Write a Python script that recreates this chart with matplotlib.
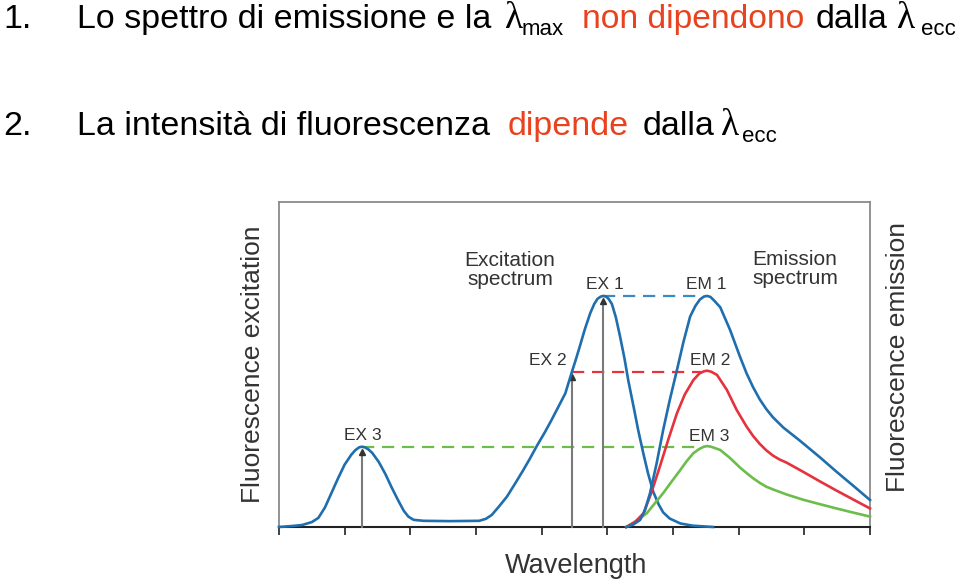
import matplotlib
matplotlib.use('Agg')
import matplotlib.pyplot as plt

plt.rcParams['font.family'] = ['Liberation Sans', 'DejaVu Sans']

# excitation spectrum (x in tick units, y in % of frame height)
ex_x = [0.00, 0.20, 0.35, 0.50, 0.60, 0.70, 0.80, 0.90, 1.00, 1.10, 1.16, 1.22, 1.26, 1.31, 1.36,
        1.42, 1.52, 1.62, 1.72, 1.82, 1.90, 1.97, 2.05, 2.20, 2.60, 3.05, 3.15, 3.24, 3.35, 3.47,
        3.60, 3.72, 3.82, 3.92, 4.05, 4.15, 4.26, 4.36, 4.46, 4.52, 4.58, 4.66, 4.74, 4.80,
        4.85, 4.90, 4.94, 4.98, 5.02, 5.07, 5.13, 5.19, 5.26, 5.32, 5.40, 5.47, 5.55, 5.62,
        5.70, 5.78, 5.85, 5.95, 6.11, 6.30, 6.61]
ex_y = [0.0, 0.3, 0.6, 1.5, 2.8, 6.0, 10.5, 15.0, 19.2, 22.2, 23.6, 24.5, 24.7, 24.5, 23.9,
        22.8, 20.0, 16.3, 12.0, 8.0, 5.0, 3.2, 2.2, 1.9, 1.8, 1.9, 2.5, 3.7, 6.3, 9.3,
        13.5, 17.5, 21.0, 24.7, 29.2, 32.9, 37.2, 41.1, 47.7, 51.5, 55.5, 61.0, 65.8, 68.6,
        70.2, 70.9, 71.1, 70.9, 70.2, 68.6, 64.5, 59.0, 52.0, 45.0, 37.0, 29.8, 22.5, 16.5,
        10.8, 7.0, 4.5, 2.6, 1.1, 0.4, 0.0]

# emission spectra
em1_x = [5.29, 5.40, 5.50, 5.57, 5.65, 5.75, 5.85, 5.95, 6.06, 6.16, 6.26, 6.34, 6.41, 6.47,
         6.52, 6.57, 6.63, 6.72, 6.87, 7.02, 7.12, 7.22, 7.32, 7.42, 7.52, 7.68, 7.93, 8.24,
         8.49, 8.75, 9.00]
em1_y = [0.0, 0.8, 2.2, 5.0, 10.4, 19.5, 29.8, 39.0, 48.3, 57.0, 64.7, 68.0, 70.0, 70.9,
         71.1, 70.8, 69.6, 67.6, 60.6, 52.4, 47.3, 43.0, 39.3, 36.3, 33.8, 30.6, 26.6, 21.4,
         17.0, 12.6, 8.3]
em2_x = [5.29, 5.42, 5.55, 5.67, 5.80, 5.93, 6.06, 6.18, 6.31, 6.40, 6.47, 6.52, 6.58, 6.67,
         6.82, 6.97, 7.12, 7.22, 7.32, 7.42, 7.52, 7.62, 7.73, 7.98, 8.24, 8.49, 8.75, 9.00]
em2_y = [0.0, 1.5, 4.2, 10.5, 18.6, 27.0, 35.0, 40.8, 45.2, 47.2, 47.9, 48.1, 47.8, 46.8,
         42.2, 36.0, 30.9, 28.0, 25.6, 23.6, 22.0, 20.8, 19.8, 17.0, 14.0, 11.2, 8.4, 5.7]
em3_x = [5.29, 5.45, 5.60, 5.72, 5.85, 5.98, 6.11, 6.21, 6.31, 6.40, 6.47, 6.52, 6.58, 6.72,
         6.87, 7.02, 7.12, 7.22, 7.32, 7.42, 7.53, 7.73, 7.98, 8.24, 8.49, 8.75, 9.00]
em3_y = [0.0, 2.0, 4.2, 7.2, 10.4, 14.0, 17.5, 20.3, 22.7, 24.0, 24.7, 24.9, 24.7, 23.7,
         21.2, 18.3, 16.6, 15.0, 13.6, 12.4, 11.5, 10.0, 8.4, 7.0, 5.7, 4.4, 3.2]

# excitation wavelengths used (EX 1, EX 2, EX 3) and their levels
exc_names = ['EX 1', 'EX 2', 'EX 3']
exc_x = [4.94, 4.46, 1.26]
exc_level = [71.1, 47.7, 24.7]
emi_names = ['EM 1', 'EM 2', 'EM 3']
emi_peak_x = [6.52, 6.52, 6.52]
dash_end = [6.42, 6.42, 6.36]

blue = '#1f6eae'
red = '#e5323c'
green = '#6cbd4a'
dash_cols = ['#3a8ac6', red, green]

fig = plt.figure(figsize=(9.59, 5.80), dpi=100)
ax = fig.add_axes([0.2909, 0.0914, 0.6163, 0.5603])
ax.set_xlim(0, 9)
ax.set_ylim(0, 100)

for sp in ['left', 'top', 'right']:
    ax.spines[sp].set_color('#8a8a8a')
    ax.spines[sp].set_linewidth(1.3)
ax.spines['bottom'].set_color('#222222')
ax.spines['bottom'].set_linewidth(1.5)
ax.set_xticks(range(10))
ax.set_xticklabels([])
ax.set_yticks([])
ax.tick_params(axis='x', length=6, width=1.3, color='#333333', direction='out')

# dashed connecting lines
for x0, lev, x1, c in zip(exc_x, exc_level, dash_end, dash_cols):
    ax.plot([x0, x1], [lev, lev], color=c, lw=1.6, dashes=(5.5, 3.5), zorder=2)

# arrows
for x0, lev in zip(exc_x, exc_level):
    ax.plot([x0, x0], [0, lev - 1.5], color='#7a7a7a', lw=1.5, zorder=3, clip_on=False)
    ax.plot(x0, lev - 1.6, marker='^', ms=5, color='#333333', zorder=4)

ax.plot(ex_x, ex_y, color=blue, lw=1.9, zorder=5, clip_on=False)
ax.plot(em3_x, em3_y, color=green, lw=1.9, zorder=5, clip_on=False)
ax.plot(em2_x, em2_y, color=red, lw=1.9, zorder=5, clip_on=False)
ax.plot(em1_x, em1_y, color=blue, lw=1.9, zorder=6, clip_on=False)

lab = dict(fontsize=12.5, color='#333333', ha='center', va='center')
ax.text(exc_x[0] + 0.02, exc_level[0] + 3.4, exc_names[0], **lab)
ax.text(exc_x[1] - 0.36, exc_level[1] + 3.6, exc_names[1], **lab)
ax.text(exc_x[2] + 0.01, exc_level[2] + 3.3, exc_names[2], **lab)
ax.text(emi_peak_x[0] - 0.02, exc_level[0] + 3.4, emi_names[0], **lab)
ax.text(emi_peak_x[1] + 0.04, exc_level[1] + 3.4, emi_names[1], **lab)
ax.text(emi_peak_x[2] + 0.03, exc_level[2] + 3.0, emi_names[2], **lab)

ax.text(3.52, 79.1, 'Excitation\nspectrum', fontsize=15, color='#333333',
        ha='center', va='center', linespacing=0.98)
ax.text(7.86, 79.4, 'Emission\nspectrum', fontsize=15, color='#333333',
        ha='center', va='center', linespacing=0.98)

fig.text(253 / 959, 1 - 364 / 580, 'Fluorescence excitation', rotation=90, fontsize=19,
         color='#333333', ha='center', va='center')
fig.text(898 / 959, 1 - 357 / 580, 'Fluorescence emission', rotation=90, fontsize=19,
         color='#333333', ha='center', va='center')
fig.text(576 / 959, 1 - 573 / 580, 'Wavelength', fontsize=19.5, color='#333333',
         ha='center', va='baseline')

# header text, pieces placed by pixel position
title_red = '#e8421e'
lines = [
    [(3, 28, '1.', 'k', 24.5, 'Liberation Sans'),
     (77, 28, 'Lo spettro di emissione e la', 'k', 24.5, 'Liberation Sans'),
     (505, 28, 'λ', 'k', 27, 'Liberation Serif'),
     (522, 35, 'max', 'k', 16, 'Liberation Sans'),
     (582, 28, 'non dipendono', title_red, 24.2, 'Liberation Sans'),
     (816, 28, 'dalla', 'k', 24.5, 'Liberation Sans'),
     (897, 28, 'λ', 'k', 27, 'Liberation Serif'),
     (921, 35, 'ecc', 'k', 16, 'Liberation Sans')],
    [(3, 135, '2.', 'k', 24.5, 'Liberation Sans'),
     (77, 135, 'La intensità di fluorescenza', 'k', 24.5, 'Liberation Sans'),
     (508, 135, 'dipende', title_red, 24.5, 'Liberation Sans'),
     (643, 135, 'dalla', 'k', 24.5, 'Liberation Sans'),
     (721, 135, 'λ', 'k', 27, 'Liberation Serif'),
     (742, 142, 'ecc', 'k', 16, 'Liberation Sans')],
]
for line in lines:
    for px, py, s, c, fs, fam in line:
        fig.text(px / 959, 1 - py / 580, s, color=c, fontsize=fs, family=fam,
                 ha='left', va='baseline')

fig.savefig('out.png', dpi=100)
